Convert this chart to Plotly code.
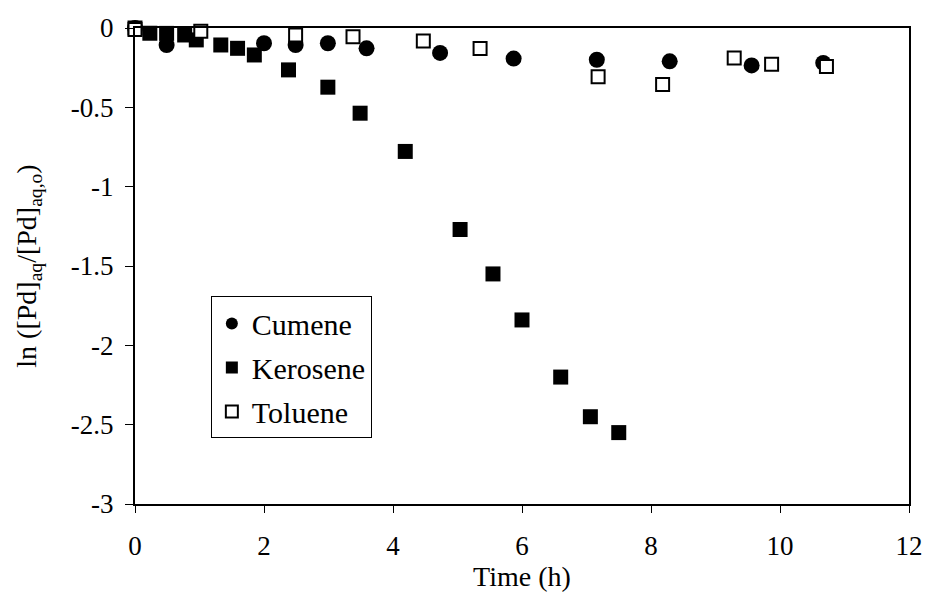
import plotly.graph_objects as go

# Data
cumene_t = [0, 0.49, 2.0, 2.49, 2.99, 3.59, 4.73, 5.87, 7.16, 8.29, 9.56, 10.67]
cumene_y = [0, -0.107, -0.096, -0.107, -0.096, -0.128, -0.157, -0.193, -0.20, -0.21, -0.236, -0.22]

kerosene_t = [0, 0.23, 0.49, 0.77, 0.95, 1.33, 1.59, 1.85, 2.38, 2.99, 3.49, 4.19,
              5.04, 5.55, 6.0, 6.6, 7.06, 7.5]
kerosene_y = [0, -0.033, -0.034, -0.044, -0.075, -0.107, -0.128, -0.17, -0.264, -0.373,
              -0.537, -0.778, -1.27, -1.55, -1.84, -2.20, -2.45, -2.55]

toluene_t = [0, 1.02, 2.49, 3.38, 4.47, 5.35, 7.18, 8.18, 9.29, 9.87, 10.72]
toluene_y = [-0.01, -0.02, -0.044, -0.055, -0.082, -0.129, -0.307, -0.356, -0.189, -0.228, -0.243]

x_ticks = [0, 2, 4, 6, 8, 10, 12]
y_ticks = [0, -0.5, -1, -1.5, -2, -2.5, -3]
y_ticktext = ["0", "-0.5", "-1", "-1.5", "-2", "-2.5", "-3"]

FONT = "Liberation Serif, Times New Roman, serif"

fig = go.Figure()
fig.add_trace(go.Scatter(
    x=cumene_t, y=cumene_y, mode="markers", name="Cumene", legendgroup="c",
    marker=dict(symbol="circle", size=16, color="black", line=dict(width=0)),
))
fig.add_trace(go.Scatter(
    x=kerosene_t, y=kerosene_y, mode="markers", name="Kerosene", legendgroup="k",
    marker=dict(symbol="square", size=15, color="black", line=dict(width=0)),
))
fig.add_trace(go.Scatter(
    x=toluene_t, y=toluene_y, mode="markers", name="Toluene", legendgroup="t",
    marker=dict(symbol="square", size=13, color="white", line=dict(width=2, color="black")),
))

fig.update_layout(
    width=935, height=595,
    margin=dict(l=135, r=20, t=28, b=90),
    paper_bgcolor="white", plot_bgcolor="white",
    font=dict(family=FONT, size=27, color="black"),
    showlegend=True,
    legend=dict(
        x=0.098, y=0.436, xanchor="left", yanchor="top",
        bordercolor="black", borderwidth=1, bgcolor="white",
        font=dict(family=FONT, size=30, color="black"),
        itemsizing="constant", tracegroupgap=2,
    ),
    xaxis=dict(
        range=[0, 12], tickvals=x_ticks, ticks="outside", ticklen=7, tickwidth=1,
        tickcolor="black", showline=True, linecolor="black", linewidth=2, mirror=True,
        showgrid=False, zeroline=False, ticklabelstandoff=10,
        tickfont=dict(family=FONT, size=27),
        title=dict(text="Time (h)", font=dict(family=FONT, size=28), standoff=2),
    ),
    yaxis=dict(
        range=[-3, 0], tickvals=y_ticks, ticktext=y_ticktext, ticks="outside", ticklen=8,
        tickwidth=1, tickcolor="black", showline=True, linecolor="black", linewidth=2,
        mirror=True, showgrid=False, zeroline=False, ticklabelstandoff=6,
        tickfont=dict(family=FONT, size=27),
        title=dict(text="ln ([Pd]<sub>aq</sub>/[Pd]<sub>aq,o</sub>)",
                   font=dict(family=FONT, size=28), standoff=26),
    ),
)
for tr in fig.data:
    tr.cliponaxis = False

fig.write_html("out.html")
